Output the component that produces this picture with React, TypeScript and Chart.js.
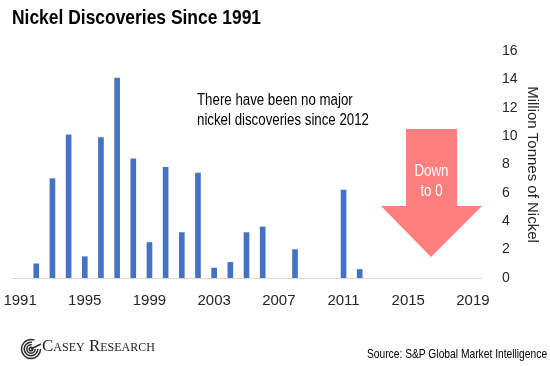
import React, { useEffect, useRef } from "react";
import { Chart, registerables } from "chart.js";

Chart.register(...registerables);

const years: string[] = [
  "1991", "1992", "1993", "1994", "1995", "1996", "1997", "1998", "1999", "2000",
  "2001", "2002", "2003", "2004", "2005", "2006", "2007", "2008", "2009", "2010",
  "2011", "2012", "2013", "2014", "2015", "2016", "2017", "2018", "2019",
];
const discoveries: number[] = [
  0, 1.0, 7.0, 10.1, 1.5, 9.9, 14.1, 8.4, 2.5, 7.8,
  3.2, 7.4, 0.7, 1.1, 3.2, 3.6, 0, 2.0, 0, 0,
  6.2, 0.6, 0, 0, 0, 0, 0, 0, 0,
];
const yTicks: number[] = [0, 2, 4, 6, 8, 10, 12, 14, 16];
const xLabelEvery = 4;

const SANS = '"Liberation Sans", Arial, sans-serif';
const NARROW_SCALE = 0.83;

export default function App() {
  const ref = useRef<HTMLCanvasElement | null>(null);

  useEffect(() => {
    document.body.style.margin = "0";
    const canvas = ref.current;
    if (!canvas) return;
    const chart = new Chart(canvas, {
      type: "bar",
      data: {
        labels: years,
        datasets: [
          {
            data: discoveries,
            backgroundColor: (ctx: any) =>
              ctx.raw === 0 ? "rgba(0,0,0,0)" : "#4472C4",
            barThickness: 5,
          },
        ],
      },
      options: {
        animation: false,
        responsive: false,
        maintainAspectRatio: false,
        layout: { padding: { top: 51, bottom: 42, left: 12, right: 9 } },
        plugins: { legend: { display: false }, tooltip: { enabled: false } },
        scales: {
          x: {
            offset: true,
            grid: { display: true, drawOnChartArea: false, drawTicks: false, color: "rgba(0,0,0,0)" },
            border: { display: true, color: "#d9d9d9", width: 1 },
            afterFit: (axis: any) => {
              axis.paddingLeft = 0;
              axis.paddingRight = 0;
            },
            ticks: {
              autoSkip: false,
              maxRotation: 0,
              padding: 14,
              color: "#262626",
              font: { family: SANS, size: 15 },
              callback: (_v: any, i: number) => (i % xLabelEvery === 0 ? years[i] : ""),
            },
          },
          y: {
            position: "right",
            min: yTicks[0],
            max: yTicks[yTicks.length - 1],
            afterBuildTicks: (axis: any) => {
              axis.ticks = yTicks.map((v) => ({ value: v }));
            },
            afterFit: (axis: any) => {
              axis.width = 60;
            },
            grid: { display: false, drawTicks: false },
            border: { display: false },
            ticks: {
              padding: 21,
              color: "#262626",
              font: { family: SANS, size: 14 },
            },
            title: {
              display: true,
              text: "Million Tonnes of Nickel",
              color: "#262626",
              font: { family: SANS, size: 15 },
              padding: { top: 0, bottom: 0 },
            },
          },
        },
      },
    });
    return () => chart.destroy();
  }, []);

  const narrow = (origin: string, s: number = NARROW_SCALE): React.CSSProperties => ({
    transform: `scaleX(${s})`,
    transformOrigin: origin,
  });

  return (
    <div style={{ position: "relative", width: 550, height: 366, background: "#fff", overflow: "hidden" }}>
      <canvas ref={ref} width={550} height={366} style={{ position: "absolute", left: 0, top: 0 }} />
      <div
        style={{
          position: "absolute", left: 12, top: 5, fontFamily: SANS, fontWeight: "bold",
          fontSize: 21, color: "#000", whiteSpace: "nowrap", ...narrow("left center"),
        }}
      >
        Nickel Discoveries Since 1991
      </div>
      <div
        style={{
          position: "absolute", left: 197, top: 90, fontFamily: SANS, fontSize: 16,
          lineHeight: "20px", color: "#000", whiteSpace: "nowrap", ...narrow("left center"),
        }}
      >
        There have been no major
        <br />
        nickel discoveries since 2012
      </div>
      <svg width={550} height={366} style={{ position: "absolute", left: 0, top: 0 }}>
        <polygon
          points="406,129 457,129 457,206 482,206 431,257 381,206 406,206"
          fill="#FF7F7F"
        />
        <g fill="none" stroke="#2a2a2a" strokeWidth={1.5}>
          <circle cx={31} cy={349} r={9.5} strokeDasharray="48 12" />
          <circle cx={31} cy={349} r={6.8} strokeDasharray="33 10" />
          <circle cx={31} cy={349} r={4.2} strokeDasharray="20 6" />
          <circle cx={31} cy={349} r={1.8} />
          <line x1={31} y1={349} x2={41} y2={344} />
        </g>
      </svg>
      <div
        style={{
          position: "absolute", left: 381, width: 101, top: 161, textAlign: "center",
          fontFamily: SANS, fontSize: 16, lineHeight: "20px", color: "#fff",
        }}
      >
        <div style={{ ...narrow("center center") }}>Down</div>
        <div style={{ ...narrow("center center") }}>to 0</div>
      </div>
      <div
        style={{
          position: "absolute", left: 42, top: 336, fontFamily: '"Liberation Serif", "Times New Roman", serif',
          fontVariant: "small-caps", fontSize: 17, color: "#222", whiteSpace: "nowrap",
        }}
      >
        Casey Research
      </div>
      <div
        style={{
          position: "absolute", right: 3, top: 346, fontFamily: SANS, fontSize: 13,
          color: "#000", whiteSpace: "nowrap", ...narrow("right center", 0.79),
        }}
      >
        Source: S&amp;P Global Market Intelligence
      </div>
    </div>
  );
}
